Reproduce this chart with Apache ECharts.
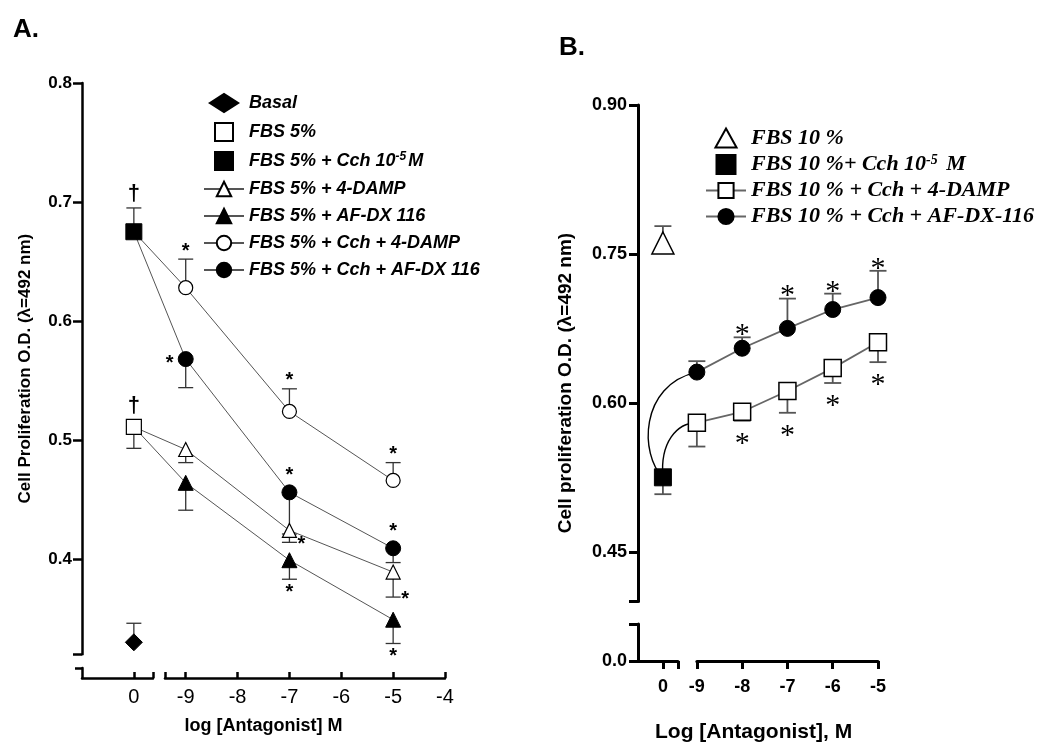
<!DOCTYPE html>
<html><head><meta charset="utf-8">
<script src="https://cdn.jsdelivr.net/npm/echarts@6/dist/echarts.min.js"></script>
<style>html,body{margin:0;padding:0;background:#fff}#c{width:1037px;height:751px}</style>
</head><body><div id="c"></div>
<script>
// ================= DATA =================
// ---- Panel A ----
const xTicksA = [-9, -8, -7, -6, -5, -4];
const yTicksA = [0.4, 0.5, 0.6, 0.7, 0.8];
const xZeroA = -10;               // axis position of the "0" (no antagonist) column
const xA = [-9, -7, -5];
const namesA = ['Basal', 'FBS 5%', 'FBS 5% + Cch 10⁻⁵M', 'FBS 5% + 4-DAMP', 'FBS 5% + AF-DX 116',
                'FBS 5% + Cch + 4-DAMP', 'FBS 5% + Cch + AF-DX 116'];
const basal = [0.330],    basalErr = [0.016];
const fbs5 = [0.511],     fbs5Err = [0.018];
const fbs5Cch = [0.675],  fbs5CchErr = [0.020];
const damp = [0.492, 0.424, 0.389],    dampErr = [0.011, 0.010, 0.021];
const afdx = [0.464, 0.399, 0.349],    afdxErr = [0.023, 0.016, 0.020];
const cchDamp = [0.628, 0.524, 0.466], cchDampErr = [0.024, 0.019, 0.015];
const cchAfdx = [0.568, 0.456, 0.409], cchAfdxErr = [0.024, 0.035, 0.012];

// ---- Panel B ----
const xTicksB = [-9, -8, -7, -6, -5];
const yTicksB = [0.45, 0.60, 0.75, 0.90];
const xZeroB = -9.75;             // axis position of the "0" column
const xB = [-9, -8, -7, -6, -5];
const namesB = ['FBS 10 %', 'FBS 10 %+ Cch 10⁻⁵ M', 'FBS 10 % + Cch + 4-DAMP', 'FBS 10 % + Cch + AF-DX-116'];
const fbs10 = [0.761],    fbs10Err = [0.017];
const fbs10Cch = [0.525], fbs10CchErr = [0.017];
const cchDampB = [0.580, 0.591, 0.612, 0.635, 0.661], cchDampBErr = [0.024, 0.009, 0.022, 0.015, 0.020];
const cchAfdxB = [0.631, 0.655, 0.675, 0.694, 0.706], cchAfdxBErr = [0.011, 0.011, 0.030, 0.016, 0.027];

// ================= STYLE / LAYOUT =================
const FONT = '"Liberation Sans", Arial, sans-serif';
const SERIF = '"Liberation Serif", "Times New Roman", serif';
const ICON_SQ = 'path://M0,0H10V10H0Z';
const ICON_DIA = 'path://M0,7L11,0L22,7L11,14Z';
const ICON_TRI = 'path://M10,0L20,18H0Z';
const grid = [], xAxis = [], yAxis = [];
function G(r) { grid.push(Object.assign({ outerBoundsMode: 'none', containLabel: false }, r)); return grid.length - 1; }
function hid(gi, min, max, extra) {
  return Object.assign({ type: 'value', gridIndex: gi, min, max,
    axisLine: { show: false }, axisTick: { show: false }, axisLabel: { show: false }, splitLine: { show: false } }, extra || {});
}
function vis(gi, min, max, o) {
  return { type: 'value', gridIndex: gi, min, max,
    axisLine: { show: true, onZero: false, lineStyle: { color: '#000', width: o.lw } },
    axisTick: { show: true, inside: !!o.inside, length: o.tl, lineStyle: { color: '#000', width: o.lw }, customValues: o.ticks },
    axisLabel: { show: !!o.labels, customValues: o.labels || [], margin: o.margin || 8, formatter: o.fmt,
      color: '#000', fontFamily: FONT, fontSize: o.fs || 16, fontWeight: o.fw || 'normal' },
    splitLine: { show: false } };
}

// ---- Panel A axes ----
const pxA = 363 / 7;
const gA = G({ left: 82, top: 83, width: 363, height: 595 });
xAxis.push(hid(gA, -11, -4, { name: 'log [Antagonist] M', nameLocation: 'middle', nameGap: 39,
  nameTextStyle: { fontFamily: FONT, fontWeight: 'bold', fontSize: 18, color: '#000' } }));
yAxis.push(hid(gA, 0.3, 0.8));
const gAyU = G({ left: 82, top: 83, width: 363, height: 595 * 0.48 / 0.5 });
xAxis.push(hid(gAyU, 0, 1));
yAxis.push(Object.assign(vis(gAyU, 0.32, 0.8, { ticks: [0.32].concat(yTicksA), labels: yTicksA, fmt: v => v.toFixed(1),
  tl: 9, lw: 2.5, margin: 10, fs: 17, fw: 'bold' }),
  { name: 'Cell Proliferation O.D. (λ=492 nm)', nameLocation: 'middle', nameGap: 48, nameRotate: 90,
    nameTextStyle: { fontFamily: FONT, fontWeight: 'bold', fontSize: 17, color: '#000' } }));
const gAyL = G({ left: 82, top: 668, width: 363, height: 10 });
xAxis.push(hid(gAyL, 0, 1));
yAxis.push(vis(gAyL, 0, 1, { ticks: [1], tl: 7, lw: 2.5 }));
const gAxL = G({ left: 82, top: 83, width: 71, height: 595 });
xAxis.push(vis(gAxL, -11, -11 + 71 / pxA, { ticks: [xZeroA, -11 + 71 / pxA], labels: [xZeroA], fmt: () => '0',
  inside: true, tl: 6, lw: 2.5, margin: 9, fs: 20 }));
yAxis.push(hid(gAxL, 0, 1));
const gAxR = G({ left: 82 + 1.6 * pxA, top: 83, width: 5.4 * pxA, height: 595 });
xAxis.push(vis(gAxR, -9.4, -4, { ticks: [-9.4].concat(xTicksA), labels: xTicksA, fmt: v => String(v),
  inside: true, tl: 6, lw: 2.5, margin: 9, fs: 20 }));
yAxis.push(hid(gAxR, 0, 1));

// ---- Panel B axes ----
const pxB = 240 / 5.3, pyB = 556 / 0.56;
const gB = G({ left: 638, top: 105, width: 240, height: 556 });
xAxis.push(hid(gB, -10.3, -5));
yAxis.push(hid(gB, 0.34, 0.90, { name: 'Cell proliferation O.D. (λ=492 nm)', nameLocation: 'middle', nameGap: 63, nameRotate: 90,
  nameTextStyle: { fontFamily: FONT, fontWeight: 'bold', fontSize: 19, color: '#000' } }));
const gByU = G({ left: 638, top: 105, width: 240, height: 0.5 * pyB });
xAxis.push(hid(gByU, 0, 1));
yAxis.push(vis(gByU, 0.40, 0.90, { ticks: [0.40].concat(yTicksB), labels: yTicksB, fmt: v => v.toFixed(2),
  tl: 9, lw: 3, margin: 11, fs: 18, fw: 'bold' }));
const gByL = G({ left: 638, top: 624, width: 240, height: 37 });
xAxis.push(hid(gByL, 0, 1));
yAxis.push(vis(gByL, 0, 0.04, { ticks: [0, 0.04], labels: [0], fmt: () => '0.0', tl: 9, lw: 3, margin: 11, fs: 18, fw: 'bold' }));
const gBxL = G({ left: 638, top: 105, width: 40, height: 556 });
xAxis.push(vis(gBxL, -10.3, -10.3 + 40 / pxB, { ticks: [xZeroB, -10.3 + 40 / pxB], labels: [xZeroB], fmt: () => '0',
  tl: 8, lw: 3, margin: 17, fs: 18, fw: 'bold' }));
yAxis.push(hid(gBxL, 0, 1));
const gBxR = G({ left: 638 + 1.3 * pxB, top: 105, width: 4 * pxB, height: 556 });
xAxis.push(vis(gBxR, -9, -5, { ticks: xTicksB, labels: xTicksB, fmt: v => String(v), tl: 8, lw: 3, margin: 17, fs: 18, fw: 'bold' }));
yAxis.push(hid(gBxR, 0, 1));

// ================= SERIES HELPERS =================
function pts(xs, ys) { return xs.map((x, i) => [x, ys[i]]); }
function errData(xs, ys, es, dir) { return xs.map((x, i) => [x, ys[i], dir * es[i]]); }
function errSeries(gi, data, cap, color, width) {
  return { type: 'custom', xAxisIndex: gi, yAxisIndex: gi, z: 2, silent: true, clip: false, data,
    renderItem(params, api) {
      const x = api.value(0), y = api.value(1), e = api.value(2);
      const p0 = api.coord([x, y]), p1 = api.coord([x, y + e]);
      const st = { stroke: color, lineWidth: width };
      return { type: 'group', children: [
        { type: 'line', shape: { x1: p0[0], y1: p0[1], x2: p1[0], y2: p1[1] }, style: st },
        { type: 'line', shape: { x1: p1[0] - cap / 2, y1: p1[1], x2: p1[0] + cap / 2, y2: p1[1] }, style: st }] };
    } };
}
// annotation (asterisks / daggers) anchored to a data point and its error bar
function annSeries(gi, items) {
  return { type: 'custom', xAxisIndex: gi, yAxisIndex: gi, z: 6, silent: true, clip: false,
    data: items.map(it => [it.x, it.y]),
    renderItem(params, api) {
      const it = items[params.dataIndex];
      const p = api.coord([it.x, it.y]), pe = api.coord([it.x, it.y + it.e]);
      let px = p[0], py = p[1];
      if (it.side === 'above') py = Math.min(pe[1], p[1] - it.r) - it.gap;
      else if (it.side === 'below') py = Math.max(pe[1], p[1] + it.r) + it.gap;
      else if (it.side === 'left') px = p[0] - it.r - it.gap;
      else if (it.side === 'right') { px = p[0] + it.gap; py = pe[1] + (it.dy2 || 0); }
      return { type: 'text', x: px, y: py + it.m.dy,
        style: { text: it.m.text, font: it.m.font, fill: '#000', align: 'center', verticalAlign: 'middle' } };
    } };
}
function lineSeries(gi, name, start, xs, ys, sym, size, fill, lc, lw, bw) {
  const data = (start ? [{ value: start, symbol: 'none' }] : []).concat(pts(xs, ys));
  return { type: 'line', name, xAxisIndex: gi, yAxisIndex: gi, data, symbol: sym, symbolSize: size, showSymbol: true,
    itemStyle: { color: fill, borderColor: '#000', borderWidth: bw, opacity: 1 }, lineStyle: { color: lc, width: lw },
    z: 3, clip: false, emphasis: { disabled: true } };
}
function scatterSeries(gi, name, xs, ys, sym, size, fill, bw) {
  return { type: 'scatter', name, xAxisIndex: gi, yAxisIndex: gi, data: pts(xs, ys), symbol: sym, symbolSize: size,
    itemStyle: { color: fill, borderColor: '#000', borderWidth: bw, opacity: 1 }, z: 4, clip: false, emphasis: { disabled: true } };
}

const series = [];
// ---- Panel A series ----
series.push(errSeries(gA, [].concat(
  errData([xZeroA], basal, basalErr, 1), errData([xZeroA], fbs5, fbs5Err, -1), errData([xZeroA], fbs5Cch, fbs5CchErr, 1),
  errData(xA, damp, dampErr, -1), errData(xA, afdx, afdxErr, -1),
  errData(xA, cchDamp, cchDampErr, 1), errData(xA, cchAfdx, cchAfdxErr, -1)), 15, '#333', 1.3));
series.push(lineSeries(gA, namesA[3], [xZeroA, fbs5[0]], xA, damp, 'triangle', 14, '#fff', '#555', 1, 1.2));
series.push(lineSeries(gA, namesA[4], [xZeroA, fbs5[0]], xA, afdx, 'triangle', 15, '#000', '#555', 1, 1));
series.push(lineSeries(gA, namesA[5], [xZeroA, fbs5Cch[0]], xA, cchDamp, 'circle', 14, '#fff', '#555', 1, 1.2));
series.push(lineSeries(gA, namesA[6], [xZeroA, fbs5Cch[0]], xA, cchAfdx, 'circle', 15, '#000', '#555', 1, 1));
series.push(scatterSeries(gA, namesA[0], [xZeroA], basal, 'diamond', 17, '#000', 1));
series.push(scatterSeries(gA, namesA[1], [xZeroA], fbs5, 'rect', 15, '#fff', 1.2));
series.push(scatterSeries(gA, namesA[2], [xZeroA], fbs5Cch, 'rect', 16, '#000', 1));
const starA = { text: '*', font: 'bold 20px ' + FONT, dy: 4 };
const dagA = { text: '†', font: 'bold 22px ' + FONT, dy: 2 };
const annA = [];
xA.forEach((x, i) => annA.push({ x, y: cchDamp[i], e: cchDampErr[i], side: 'above', r: 7, gap: 12, m: starA }));
annA.push({ x: xA[0], y: cchAfdx[0], e: -cchAfdxErr[0], side: 'left', r: 7, gap: 9, m: starA });
[1, 2].forEach(i => annA.push({ x: xA[i], y: cchAfdx[i], e: -cchAfdxErr[i], side: 'above', r: 7, gap: 14, m: starA }));
[1, 2].forEach(i => annA.push({ x: xA[i], y: damp[i], e: -dampErr[i], side: 'right', r: 7, gap: 12, dy2: -2, m: starA }));
[1, 2].forEach(i => annA.push({ x: xA[i], y: afdx[i], e: -afdxErr[i], side: 'below', r: 7, gap: 9, m: starA }));
annA.push({ x: xZeroA, y: fbs5[0], e: -fbs5Err[0], side: 'above', r: 7, gap: 16, m: dagA });
annA.push({ x: xZeroA, y: fbs5Cch[0], e: fbs5CchErr[0], side: 'above', r: 8, gap: 16, m: dagA });
series.push(annSeries(gA, annA));

// ---- Panel B series ----
series.push(errSeries(gB, [].concat(
  errData([xZeroB], fbs10, fbs10Err, 1), errData([xZeroB], fbs10Cch, fbs10CchErr, -1),
  errData(xB, cchDampB, cchDampBErr, -1), errData(xB, cchAfdxB, cchAfdxBErr, 1)), 17, '#555', 1.8));
// fitted curves from the Cch point to the first antagonist point (control offsets are drawing style)
const curveCtl = [[-23, -22, -58, 13], [-3, -35, -20, 0]];
series.push({ type: 'custom', xAxisIndex: gB, yAxisIndex: gB, z: 2, silent: true, clip: false,
  data: [[xZeroB, fbs10Cch[0], xB[0], cchAfdxB[0]], [xZeroB, fbs10Cch[0], xB[0], cchDampB[0]]],
  renderItem(params, api) {
    const a = api.coord([api.value(0), api.value(1)]), b = api.coord([api.value(2), api.value(3)]);
    const k = curveCtl[params.dataIndex];
    return { type: 'bezierCurve', shape: { x1: a[0], y1: a[1], x2: b[0], y2: b[1],
      cpx1: a[0] + k[0], cpy1: a[1] + k[1], cpx2: b[0] + k[2], cpy2: b[1] + k[3] },
      style: { stroke: '#000', fill: null, lineWidth: 1.4 } };
  } });
series.push(lineSeries(gB, namesB[2], null, xB, cchDampB, 'rect', 17, '#fff', '#666', 1.8, 1.5));
series.push(lineSeries(gB, namesB[3], null, xB, cchAfdxB, 'circle', 16, '#000', '#666', 1.8, 1));
series.push(scatterSeries(gB, namesB[0], [xZeroB], fbs10, 'triangle', 22, '#fff', 1.5));
series.push(scatterSeries(gB, namesB[1], [xZeroB], fbs10Cch, 'rect', 17, '#000', 1));
const starB = { text: '*', font: '30px ' + SERIF, dy: 7 };
const annB = [];
[1, 2, 3, 4].forEach(i => annB.push({ x: xB[i], y: cchAfdxB[i], e: cchAfdxBErr[i], side: 'above', r: 8, gap: 9, m: starB }));
[1, 2, 3, 4].forEach(i => annB.push({ x: xB[i], y: cchDampB[i], e: -cchDampBErr[i], side: 'below', r: 8, gap: 16, m: starB }));
series.push(annSeries(gB, annB));

// ================= OPTION =================
const supRich = { s: { fontSize: 12, fontWeight: 'bold', fontStyle: 'italic', verticalAlign: 'top', fontFamily: FONT, padding: [0, 2, 8, 0] } };
const supRichB = { s: { fontSize: 14, fontWeight: 'bold', fontStyle: 'italic', verticalAlign: 'top', fontFamily: SERIF, padding: [0, 3, 9, 0] } };
const legendIconsA = { 'Basal': ICON_DIA, 'FBS 5%': ICON_SQ, 'FBS 5% + Cch 10⁻⁵M': ICON_SQ };
const legendIconsB = { 'FBS 10 %': ICON_TRI, 'FBS 10 %+ Cch 10⁻⁵ M': ICON_SQ };
const option = {
  animation: false,
  backgroundColor: '#fff',
  title: [
    { text: 'A.', left: 8, top: 12, textStyle: { fontFamily: FONT, fontWeight: 'bold', fontSize: 26, color: '#000' } },
    { text: 'B.', left: 554, top: 30, textStyle: { fontFamily: FONT, fontWeight: 'bold', fontSize: 26, color: '#000' } }
  ],
  grid, xAxis, yAxis,
  legend: [
    { data: namesA.map(n => legendIconsA[n] ? { name: n, icon: legendIconsA[n] } : { name: n }),
      orient: 'vertical', left: 198, top: 88, itemWidth: 40, itemHeight: 18, itemGap: 9, selectedMode: false,
      formatter: n => n.replace('⁻⁵', '{s|-5}'),
      textStyle: { fontFamily: FONT, fontWeight: 'bold', fontStyle: 'italic', fontSize: 18, color: '#000', rich: supRich } },
    { data: namesB.map(n => legendIconsB[n] ? { name: n, icon: legendIconsB[n] } : { name: n }),
      orient: 'vertical', left: 700, top: 122, itemWidth: 40, itemHeight: 19, itemGap: 4, selectedMode: false,
      formatter: n => n.replace('⁻⁵', '{s|-5}'),
      textStyle: { fontFamily: SERIF, fontWeight: 'bold', fontStyle: 'italic', fontSize: 22, color: '#000', rich: supRichB } }
  ],
  graphic: [
    { type: 'text', left: 655, top: 722, style: { text: 'Log [Antagonist], M', font: 'bold 21px ' + FONT, fill: '#000' } }
  ],
  series
};
const chart = echarts.init(document.getElementById('c'));
chart.setOption(option);
</script></body></html>
